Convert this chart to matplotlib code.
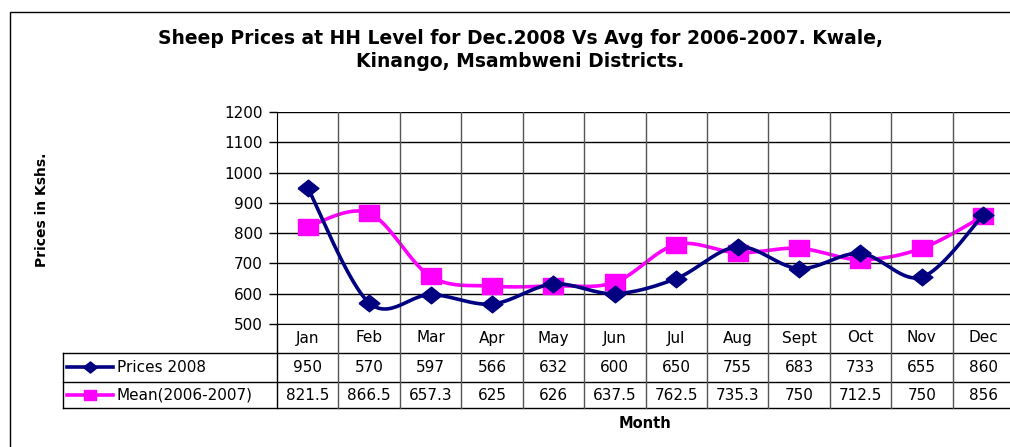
import numpy as np
import matplotlib
matplotlib.use("Agg")
from matplotlib import pyplot as plt
from matplotlib.transforms import blended_transform_factory
from matplotlib.patches import Rectangle

months = ["Jan", "Feb", "Mar", "Apr", "May", "Jun", "Jul", "Aug", "Sept", "Oct", "Nov", "Dec"]
prices_2008 = [950, 570, 597, 566, 632, 600, 650, 755, 683, 733, 655, 860]
mean_0607 = [821.5, 866.5, 657.3, 625, 626, 637.5, 762.5, 735.3, 750, 712.5, 750, 856]
prices_labels = ["950", "570", "597", "566", "632", "600", "650", "755", "683", "733", "655", "860"]
mean_labels = ["821.5", "866.5", "657.3", "625", "626", "637.5", "762.5", "735.3", "750", "712.5", "750", "856"]
yticks = [500, 600, 700, 800, 900, 1000, 1100, 1200]

NAVY = "#000080"
PINK = "#ff00ff"
FONT = "DejaVu Sans"
W, H = 1010, 447

# markers are a bit wider than tall in the original picture
DIAMOND = [(-1.25, 0), (0, 1), (1.25, 0), (0, -1), (-1.25, 0)]
SQUARE = [(-1.25, -1), (1.25, -1), (1.25, 1), (-1.25, 1), (-1.25, -1)]


def smooth(xs, ys, n=30):
    # catmull-rom style smoothing like the excel "smoothed line"
    xs = np.asarray(xs, float)
    ys = np.asarray(ys, float)
    px = np.concatenate([[xs[0]], xs, [xs[-1]]])
    py = np.concatenate([[ys[0]], ys, [ys[-1]]])
    outx, outy = [], []
    for i in range(1, len(px) - 2):
        p0 = np.array([px[i - 1], py[i - 1]])
        p1 = np.array([px[i], py[i]])
        p2 = np.array([px[i + 1], py[i + 1]])
        p3 = np.array([px[i + 2], py[i + 2]])
        c1 = p1 + (p2 - p0) / 6.0
        c2 = p2 - (p3 - p1) / 6.0
        t = np.linspace(0, 1, n)[:, None]
        pts = ((1 - t) ** 3) * p1 + 3 * ((1 - t) ** 2) * t * c1 + 3 * (1 - t) * t ** 2 * c2 + t ** 3 * p2
        outx.extend(pts[:, 0])
        outy.extend(pts[:, 1])
    return outx, outy


def fy(py):
    return 1 - py / H


fig = plt.figure(figsize=(W / 100, H / 100), dpi=100)
fig.patches.append(Rectangle((10 / W, -0.1), 1.2, fy(12) + 0.1, transform=fig.transFigure,
                             fill=False, edgecolor="black", lw=1.0))

left, right, top, bottom = 277, 1014, 112, 324
ax = fig.add_axes([left / W, fy(bottom), (right - left) / W, (bottom - top) / H])
x = np.arange(len(months))

sx, sy = smooth(x, prices_2008)
ax.plot(sx, sy, color=NAVY, lw=2.6, zorder=4, clip_on=False)
ax.plot(x, prices_2008, ls="none", marker=DIAMOND, ms=15, color=NAVY, zorder=5, clip_on=False)
sx, sy = smooth(x, mean_0607)
ax.plot(sx, sy, color=PINK, lw=2.6, zorder=2, clip_on=False)
ax.plot(x, mean_0607, ls="none", marker=SQUARE, ms=14, color=PINK, zorder=3, clip_on=False)

ax.set_xlim(-0.5, 11.5)
ax.set_ylim(500, 1200)
ax.set_yticks(yticks)
ax.set_yticklabels([str(v) for v in yticks], fontsize=11, family=FONT)
ax.tick_params(axis="y", length=6, width=1, pad=4)
ax.set_xticks([])
ax.grid(axis="y", color="black", lw=1)
for xv in np.arange(0.5, 11.5, 1):
    ax.axvline(xv, color="#555555", lw=1)
for s in ["top", "right"]:
    ax.spines[s].set_visible(False)
ax.spines["left"].set_color("black")
ax.spines["bottom"].set_color("black")

# data table under the plot
tr = blended_transform_factory(ax.transData, fig.transFigure)
px_per_col = (right - left) / 12.0
x_leg = -0.5 - (left - 63) / px_per_col
rows = [353, 382, 408]
for ry in rows:
    ax.plot([x_leg, 11.6], [fy(ry), fy(ry)], transform=tr, color="black", lw=1, clip_on=False)
ax.plot([x_leg, x_leg], [fy(353), fy(408)], transform=tr, color="black", lw=1, clip_on=False)
for xv in np.arange(-0.5, 11.5, 1):
    col = "black" if xv < 0 else "#555555"
    ax.plot([xv, xv], [fy(bottom), fy(408)], transform=tr, color=col, lw=1, clip_on=False)

for i, m in enumerate(months):
    ax.text(i, fy(338), m, transform=tr, ha="center", va="center", fontsize=11, family=FONT)
    ax.text(i, fy(367), prices_labels[i], transform=tr, ha="center", va="center", fontsize=11, family=FONT)
    ax.text(i, fy(395), mean_labels[i], transform=tr, ha="center", va="center", fontsize=11, family=FONT)

# legend keys inside the table
kx0 = x_leg + 4 / px_per_col
kx1 = x_leg + 50 / px_per_col
ax.plot([kx0, kx1], [fy(367), fy(367)], transform=tr, color=NAVY, lw=2.6, clip_on=False)
ax.plot([(kx0 + kx1) / 2], [fy(367)], transform=tr, marker=DIAMOND, ms=10, color=NAVY, clip_on=False)
ax.plot([kx0, kx1], [fy(395), fy(395)], transform=tr, color=PINK, lw=2.6, clip_on=False)
ax.plot([(kx0 + kx1) / 2], [fy(395)], transform=tr, marker=SQUARE, ms=9, color=PINK, clip_on=False)
tx = x_leg + 54 / px_per_col
ax.text(tx, fy(367), "Prices 2008", transform=tr, ha="left", va="center", fontsize=11, family=FONT)
ax.text(tx, fy(395), "Mean(2006-2007)", transform=tr, ha="left", va="center", fontsize=11, family=FONT)

fig.text(520 / W, fy(50), "Sheep Prices at HH Level for Dec.2008 Vs Avg for 2006-2007. Kwale,\nKinango, Msambweni Districts.",
         ha="center", va="center", fontsize=13.5, fontweight="bold", family=FONT, linespacing=1.25)
fig.text(42 / W, fy(210), "Prices in Kshs.", rotation=90, ha="center", va="center",
         fontsize=10, fontweight="bold", family=FONT)
fig.text(645 / W, fy(423), "Month", ha="center", va="center", fontsize=10.5, fontweight="bold", family=FONT)

plt.savefig("out.png", dpi=100)
